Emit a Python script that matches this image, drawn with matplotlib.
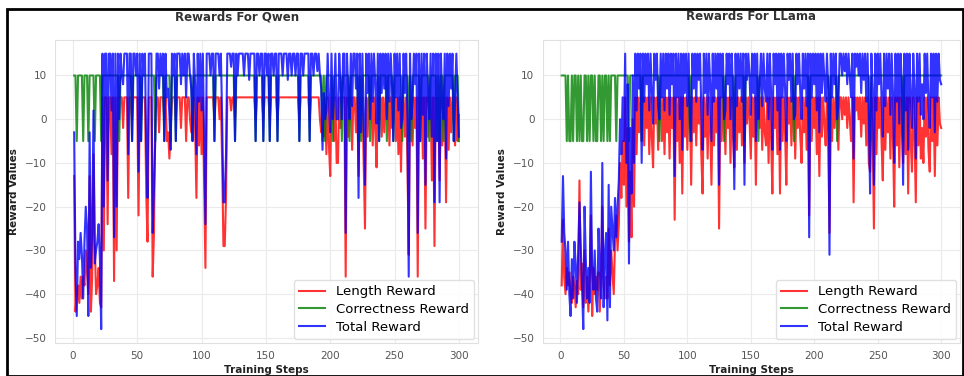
import numpy as np
import matplotlib.pyplot as plt
from matplotlib.patches import Rectangle

steps = np.arange(1, 301)

# ---- Qwen ----
qwen_correctness = [
    10, 10, -5, 10, 10, 10, 10, -5, 10, 10,
    10, -5, 10, 10, 10, 10, -5, 10, 10, 10,
    10, -5, 10, 10, 10, 10, 10, 10, 10, 10,
    10, 10, 10, 10, 10, -5, 10, 10, 10, 10,
    10, 10, 10, 10, 10, -5, 10, 10, 10, 10,
    10, 10, -5, 10, 10, 10, 10, 10, 10, 10,
    10, 10, 10, -5, 10, 10, 10, 10, 10, 10,
    -5, 10, 10, 10, 10, -5, 10, 10, 10, -5,
    10, 10, 10, 10, 10, 10, 10, 10, 10, 10,
    10, 10, -5, 10, 10, 10, 10, 10, 10, 10,
    10, 10, 10, 10, 10, 10, 10, 10, 10, -5,
    10, 10, 10, 10, 10, 10, 10, 10, 10, 10,
    10, 10, 10, 10, 10, -5, 10, 10, 10, 10,
    10, 10, 10, 10, 10, 10, 10, 10, 10, 10,
    10, -5, 10, 10, 10, 10, 10, -5, 10, 10,
    10, 10, -5, 10, 10, 10, 10, 10, -5, 10,
    10, 10, 10, 10, 10, 10, 10, 10, 10, 10,
    10, 10, 10, 10, 10, -5, 10, 10, 10, 10,
    10, 10, 10, -5, 10, 10, 10, 10, 10, 10,
    10, 10, 10, -5, 10, -5, 10, 10, 10, 10,
    10, -5, 10, 10, 10, 10, 10, 10, -5, 10,
    10, 10, 10, 10, -5, 10, 10, 10, 10, 10,
    10, -5, 10, -5, 10, 10, 10, 10, 10, 10,
    -5, 10, 10, 10, 10, 10, 10, -5, 10, 10,
    10, 10, 10, -5, 10, 10, 10, 10, -5, 10,
    10, 10, 10, 10, 10, -5, 10, 10, 10, 10,
    -5, 10, -5, 10, 10, 10, 10, 10, 10, -5,
    10, 10, 10, 10, 10, 10, -5, 10, 10, 10,
    10, 10, -5, 10, -5, 10, 10, -5, 10, 10,
    10, 10, 10, 10, 10, -5, 10, 10, 10, -5,
]
qwen_length = [
    -13, -44, -40, -38, -42, -36, -41, -36, -38, -30,
    -35, -40, -13, -44, -36, -8, -28, -40, -38, -34,
    -42, -43, 5, -30, 5, 5, -24, 5, 5, -8,
    5, -37, 5, -30, 5, 5, 5, 5, -2, 5,
    5, 5, -18, 5, 5, 0, 5, 5, 5, 5,
    -22, 5, 0, 5, 5, 5, -17, -28, 5, 5,
    5, -36, -26, 0, 5, 5, -3, 5, 5, 5,
    0, 5, -5, -3, -9, -2, 5, 5, 5, 0,
    5, 5, 5, -2, 5, 5, 5, -5, 5, 5,
    0, -3, 0, 5, -2, -18, 5, -6, 5, -8,
    5, -15, -34, 5, 5, 5, 5, 5, 5, 0,
    5, 5, 5, 0, 5, -10, -29, -29, -18, 5,
    5, 5, 2, 5, 5, 0, 5, 5, 5, 5,
    5, 5, 5, 5, 5, 5, 5, 5, 5, 5,
    5, 0, 5, 5, 5, 5, 5, 0, 5, 5,
    5, 5, 0, 5, 5, 5, 5, 5, 0, 5,
    5, 5, 5, 5, 5, 5, 5, 5, 5, 5,
    5, 5, 5, 5, 5, 0, 5, 5, 5, 5,
    5, 5, 5, 0, 5, 5, 5, 5, 5, 5,
    5, 0, -3, -2, -4, 5, -8, 5, -6, -13,
    5, 5, -5, 5, -10, -10, 5, -2, 5, 5,
    5, -36, 5, -4, 5, 5, -7, 5, 5, -3,
    5, -13, 5, 2, 5, -10, -25, 5, -4, 5,
    5, 5, -6, 5, -2, -11, 5, 0, 5, -4,
    5, -3, 5, 5, 5, -6, 5, -2, 0, 5,
    -5, 5, -8, 5, -12, 5, 5, -4, 5, -10,
    -31, 5, 5, -6, 5, -2, 5, -36, 5, 0,
    5, -9, 5, -25, 5, -4, 5, 5, -14, 5,
    -29, 5, 0, 5, -14, 5, -6, 5, 5, -19,
    5, -7, 5, -3, 5, 0, -6, 5, -5, 1,
]
qwen_total = [
    -3, -34, -45, -28, -32, -26, -31, -41, -28, -20,
    -25, -45, -3, -34, -26, 2, -33, -30, -28, -24,
    -32, -48, 15, -20, 15, 15, -14, 15, 15, 2,
    15, -27, 15, -20, 15, 0, 15, 10, 8, 15,
    15, 15, -8, 15, 15, -5, 15, 15, 10, 15,
    -12, 15, -5, 15, 10, 15, -7, -18, 15, 15,
    15, -26, -16, -5, 15, 15, 7, 15, 10, 15,
    -5, 15, 5, 7, 1, -7, 15, 10, 15, -5,
    15, 15, 15, 8, 15, 10, 15, 5, 15, 15,
    10, 7, -5, 15, 8, -8, 15, 4, 15, 2,
    15, -5, -24, 15, 15, 15, 10, 15, 15, -5,
    15, 15, 15, 10, 15, 0, -19, -19, -8, 15,
    15, 15, 12, 15, 15, -5, 15, 10, 15, 15,
    15, 15, 10, 15, 15, 15, 9, 15, 15, 15,
    15, -5, 15, 15, 10, 15, 15, -5, 15, 15,
    10, 15, -5, 15, 15, 10, 15, 15, -5, 15,
    15, 15, 10, 15, 15, 15, 9, 15, 15, 10,
    15, 15, 10, 15, 15, -5, 15, 15, 10, 15,
    15, 15, 15, -5, 15, 15, 10, 15, 15, 11,
    15, 10, 7, -7, 6, 0, 2, 15, 4, -3,
    15, 0, 5, 15, 0, 0, 15, 8, 0, 15,
    15, -26, 15, 6, 0, 15, 3, 15, 15, 7,
    15, -18, 15, -3, 15, 0, -15, 15, 6, 15,
    0, 15, 4, 15, 8, -1, 15, -5, 15, 6,
    15, 7, 15, 0, 15, 4, 15, 8, -5, 15,
    5, 15, 2, 15, -2, 0, 15, 6, 15, 0,
    -36, 15, 0, 4, 15, 8, 15, -26, 15, -5,
    15, 1, 15, -15, 15, 6, 0, 15, -4, 15,
    -19, 15, -5, 15, -19, 15, 4, 0, 15, -9,
    15, 3, 15, 7, 15, -5, 4, 15, 5, -4,
]

# ---- LLama ----
llama_correctness = [
    10, 10, 10, 10, -5, 10, -5, -5, 10, -5,
    10, 10, -5, 10, -5, 10, -5, -5, 10, 10,
    -5, 10, -5, 10, 10, -5, 10, -5, -5, 10,
    10, -5, 10, -5, 10, 10, -5, 10, -5, 10,
    10, 10, 10, -5, 10, 10, 10, 10, 10, 10,
    10, 10, 10, -5, 10, 10, 10, 10, 10, 10,
    10, 10, 10, -5, 10, 10, 10, 10, 10, 10,
    10, 10, 10, 10, 10, 10, 10, -5, 10, 10,
    10, 10, 10, 10, 10, 10, 10, 10, 10, 10,
    10, 10, 10, 10, 10, 10, 10, 10, 10, 10,
    10, -5, 10, 10, 10, 10, 10, 10, 10, 10,
    10, 10, 10, 10, 10, 10, 10, 10, 10, 10,
    10, 10, 10, 10, 10, 10, 10, 10, -5, 10,
    10, 10, 10, 10, 10, 10, -5, 10, 10, 10,
    10, 10, 10, 10, -5, 10, 10, 10, 10, 10,
    10, 10, 10, 10, 10, -5, 10, 10, 10, 10,
    10, 10, 10, 10, 10, 10, 10, 10, 10, 10,
    10, 10, 10, 10, 10, 10, 10, 10, 10, 10,
    10, 10, 10, -5, 10, 10, 10, 10, 10, 10,
    10, 10, 10, 10, 10, -5, 10, 10, 10, 10,
    10, 10, 10, 10, 10, 10, 10, 10, 10, 10,
    10, -5, 10, 10, 10, 10, 10, -5, 10, 10,
    10, 10, 10, 10, 10, 10, 10, 10, 10, 10,
    10, 10, 10, 10, 10, 10, 10, 10, 10, 10,
    10, 10, 10, -5, 10, 10, 10, 10, 10, 10,
    10, 10, 10, 10, 10, 10, 10, 10, 10, 10,
    10, 10, 10, 10, 10, 10, 10, 10, 10, -5,
    10, 10, 10, 10, 10, 10, 10, 10, 10, 10,
    10, 10, 10, 10, 10, 10, 10, 10, 10, 10,
    10, 10, 10, 10, 10, 10, 10, 10, 10, 10,
]
llama_length = [
    -38, -23, -36, -40, -34, -38, -35, -40, -42, -36,
    -38, -43, -37, -40, -14, -39, -33, -43, -30, -42,
    -36, -44, -37, -22, -45, -34, -40, -36, -39, -35,
    -44, -36, -20, -38, -41, -36, -41, -25, -38, -30,
    -35, -40, -28, -22, -30, -24, -10, -18, -5, -15,
    5, -20, -2, -28, -12, -27, 0, -20, 5, -8,
    5, -3, 5, -5, 5, -6, 5, -2, 5, -8,
    5, -4, -11, 5, -1, 5, -7, 5, 5, -5,
    5, -8, 5, -3, 5, -9, 5, -2, 5, -23,
    5, -5, 5, -10, 5, -17, 5, -4, 5, -7,
    5, 5, -15, 5, -3, 5, -6, 5, -1, 5,
    -8, -17, 5, -4, 5, -9, 5, -2, -15, 5,
    -6, 5, -3, 5, -25, 5, -5, 5, 5, -8,
    5, -2, 5, -10, 5, -4, -11, 5, -7, 5,
    -3, 5, -6, 5, -10, 5, -1, 5, 0, -9,
    5, -4, 5, -15, 5, 5, -2, 5, -7, 5,
    -3, -6, 5, -10, 5, -4, -17, 5, -2, 5,
    -8, 5, -17, 5, -5, 5, -3, -15, 5, -1,
    5, -6, 5, 5, -9, 5, -2, 5, -4, -10,
    5, -3, 5, -7, 5, -22, 5, -5, 5, -2,
    5, -8, 5, -13, 5, -4, 5, -1, -6, 5,
    -3, -26, 5, -5, 5, -2, 5, 5, -7, 5,
    5, 0, 5, 1, 5, -2, 5, 0, -5, 5,
    -19, 5, 2, 5, 0, 5, -4, 5, -1, 5,
    -6, 5, -10, -12, 5, -3, -25, 5, -8, 5,
    -2, 5, -5, -14, 5, -7, 5, -3, 5, -9,
    5, -4, -20, 5, -6, 5, -11, 5, -2, -10,
    5, -8, 5, -17, 5, -5, -12, 5, -3, -19,
    5, -6, 5, -9, -2, -10, 5, -4, 5, -7,
    -12, 5, -5, 5, -13, 5, -6, 5, -1, -2,
]
llama_total = [
    -28, -13, -26, -30, -39, -28, -40, -45, -32, -41,
    -28, -33, -42, -30, -19, -29, -38, -48, -20, -32,
    -41, -34, -42, -12, -35, -39, -30, -41, -44, -25,
    -34, -41, -10, -43, -31, -26, -46, -15, -43, -20,
    -25, -30, -18, -27, -20, -14, 0, -8, 5, -5,
    15, -10, 8, -33, -2, -17, 10, -10, 15, 2,
    15, 7, 15, -10, 15, 4, 15, 8, 15, 2,
    15, 6, -1, 15, 9, 15, 3, 0, 15, 5,
    15, 2, 15, 7, 15, 1, 15, 8, 15, -13,
    15, 5, 15, 0, 15, -7, 15, 6, 15, 3,
    15, 0, -5, 15, 7, 15, 4, 15, 9, 15,
    2, -7, 15, 6, 15, 1, 15, 8, -5, 15,
    4, 15, 7, 15, -15, 15, 5, 15, 0, 2,
    15, 8, 15, 0, 15, 6, -16, 15, 3, 15,
    7, 15, 4, 15, -15, 15, 9, 15, 10, 1,
    15, 6, 15, -5, 15, 0, 8, 15, 3, 15,
    7, 4, 15, 0, 15, 6, -7, 15, 8, 15,
    2, 15, -7, 15, 5, 15, 7, -5, 15, 9,
    15, 4, 15, 0, 1, 15, 8, 15, 6, 0,
    15, 7, 15, 3, 15, -27, 15, 5, 15, 8,
    15, 2, 15, -3, 15, 6, 15, 9, 4, 15,
    7, -31, 15, 5, 15, 8, 15, 0, 3, 15,
    15, 10, 15, 11, 15, 8, 15, 10, 5, 15,
    -9, 15, 12, 15, 10, 15, 6, 15, 9, 15,
    4, 15, 0, -17, 15, 7, -15, 15, 2, 15,
    8, 15, 5, -4, 15, 3, 15, 7, 15, 1,
    15, 6, -10, 15, 4, 15, -1, 15, 8, -15,
    15, 2, 15, -7, 15, 5, -2, 15, 7, -9,
    15, 4, 15, 1, 8, 0, 15, 6, 15, 3,
    -2, 15, 5, 15, -3, 15, 4, 15, 9, 8,
]

fig = plt.figure(figsize=(9.64, 3.76), dpi=100)
ax1 = fig.add_axes([0.057, 0.088, 0.439, 0.806])
ax2 = fig.add_axes([0.563, 0.088, 0.433, 0.806])

panels = [
    (ax1, "Rewards For Qwen", qwen_length, qwen_correctness, qwen_total, 0.43),
    (ax2, "Rewards For LLama", llama_length, llama_correctness, llama_total, 0.5),
]

for ax, title, length, correct, total, tx in panels:
    ax.plot(steps, length, color="red", alpha=0.8, lw=1.5, label="Length Reward")
    ax.plot(steps, correct, color="green", alpha=0.8, lw=1.5, label="Correctness Reward")
    ax.plot(steps, total, color="blue", alpha=0.8, lw=1.5, label="Total Reward")
    ax.set_title(title, fontsize=8.5, fontweight="bold", color="#333333", x=tx, pad=14)
    ax.set_xlabel("Training Steps", fontsize=7.5, fontweight="bold", color="#222222", labelpad=3)
    ax.set_ylabel("Reward Values", fontsize=7.5, fontweight="bold", color="#222222")
    ax.set_xticks(range(0, 301, 50))
    ax.set_yticks(range(-50, 11, 10))
    ax.tick_params(labelsize=7.5, colors="#555555", length=0, pad=6)
    ax.grid(True, color="#ebebeb", lw=0.8)
    for sp in ax.spines.values():
        sp.set_color("#e0e0e0")
    ax.legend(loc="lower right", fontsize=9.5, framealpha=0.9, edgecolor="#dddddd",
              handlelength=2.0, borderpad=0.4, labelspacing=0.35, borderaxespad=0.3)

fig.patches.append(Rectangle((0.007, 0.0), 0.992, 0.976, transform=fig.transFigure,
                             fill=False, edgecolor="black", linewidth=2))

fig.savefig("out.png", dpi=100)
